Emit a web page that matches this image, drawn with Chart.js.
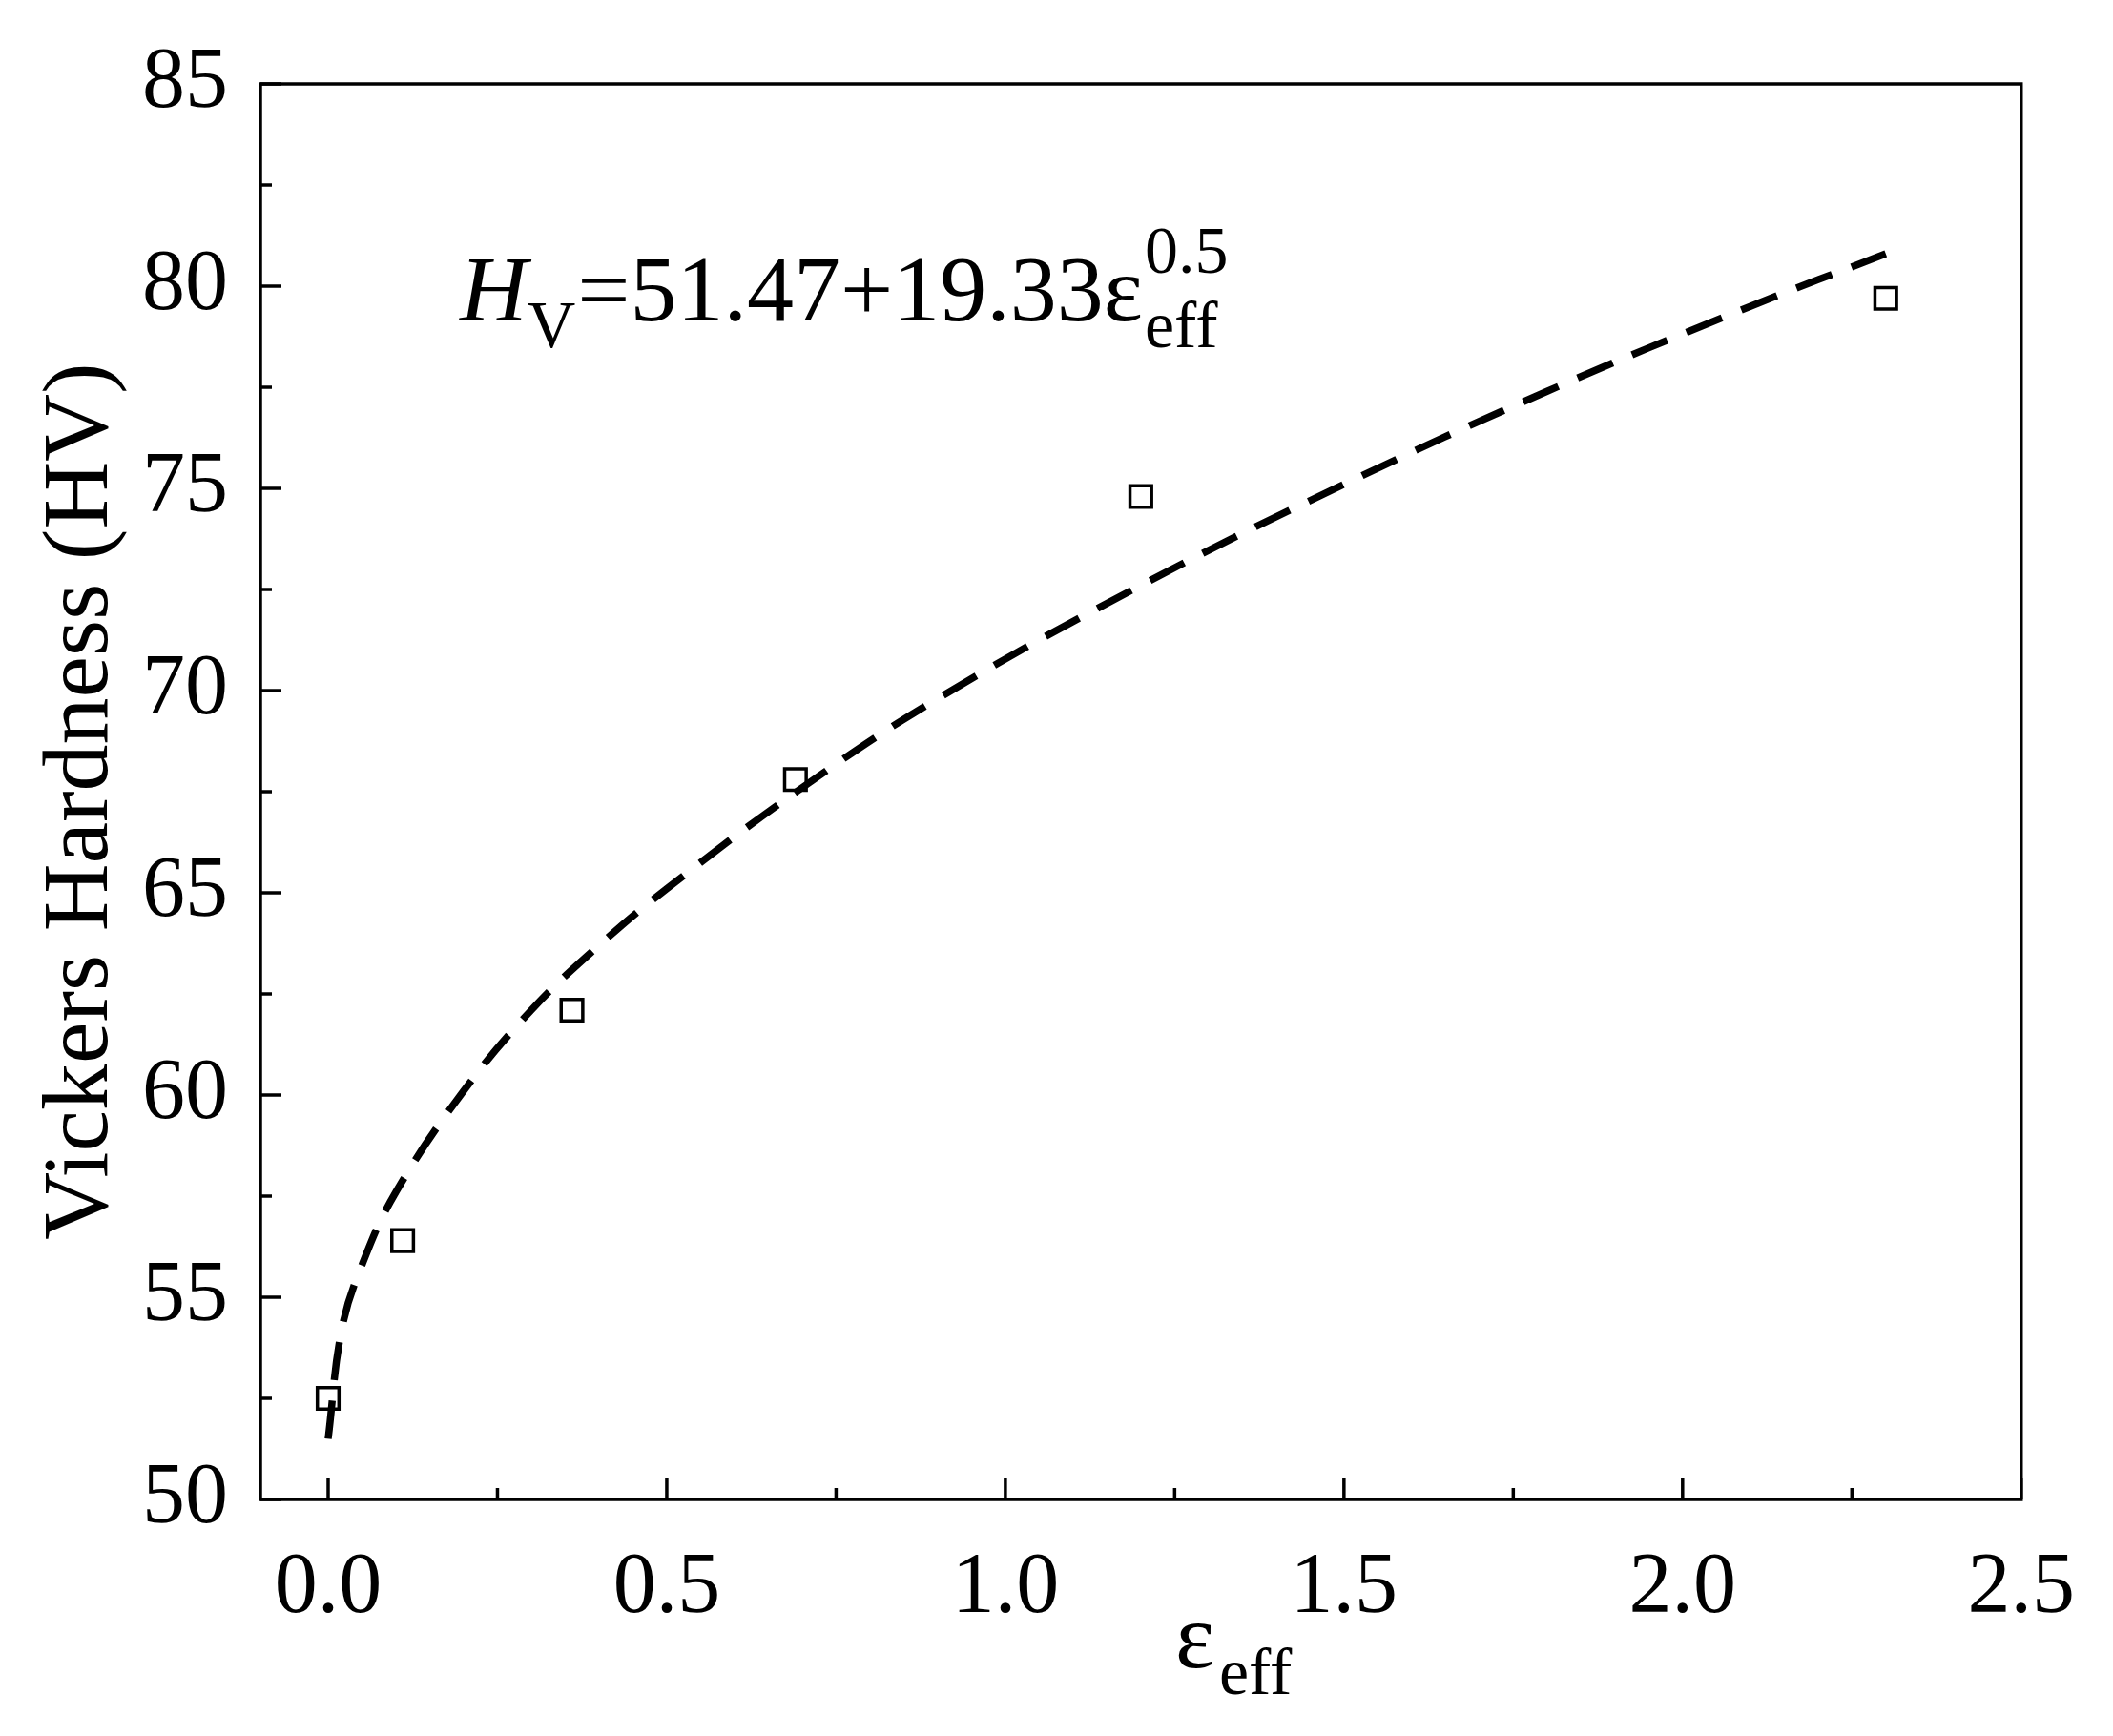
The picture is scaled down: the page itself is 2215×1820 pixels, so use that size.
<!DOCTYPE html>
<html><head><meta charset="utf-8">
<script src="https://cdn.jsdelivr.net/npm/chart.js@4"></script>
<style>body{margin:0;background:#fff}</style></head>
<body><canvas id="c" width="2215" height="1820"></canvas>
<script>
const strainX = [0, 0.11, 0.36, 0.69, 1.2, 2.3];
const hardness = [52.5, 56.4, 62.1, 67.8, 74.8, 79.7];
const fitX = [0, 0.02, 0.05, 0.1, 0.2, 0.3, 0.4, 0.5, 0.7, 0.9, 1.2, 1.5, 1.8, 2.1, 2.3];
const fitY = [51.5, 54.2, 55.8, 57.6, 60.1, 62.1, 63.7, 65.1, 67.6, 69.8, 72.6, 75.1, 77.4, 79.5, 80.8];
const xTicks = [0, 0.5, 1.0, 1.5, 2.0, 2.5];
const yTicks = [50, 55, 60, 65, 70, 75, 80, 85];
const F = '"Liberation Serif", "Times New Roman", serif';

const deco = {
  id: 'deco',
  afterDraw(ch) {
    const c = ch.ctx, a = ch.chartArea, xs = ch.scales.x, ys = ch.scales.y;
    c.save();
    c.strokeStyle = '#000'; c.lineWidth = 3.5;
    c.strokeRect(a.left, a.top, a.right - a.left, a.bottom - a.top);
    for (let v = 0; v <= 2.5001; v += 0.25) {
      const p = xs.getPixelForValue(v), L = (Math.round(v / 0.25) % 2 === 0) ? 22 : 12;
      c.beginPath(); c.moveTo(p, a.bottom); c.lineTo(p, a.bottom - L); c.stroke();
    }
    for (let v = 50; v <= 85.001; v += 2.5) {
      const p = ys.getPixelForValue(v), L = (Math.round(v / 2.5) % 2 === 0) ? 22 : 12;
      c.beginPath(); c.moveTo(a.left, p); c.lineTo(a.left + L, p); c.stroke();
    }
    c.fillStyle = '#000'; c.textBaseline = 'alphabetic';
    // x title
    c.font = '98px ' + F;
    let x0 = 1232, y0 = 1748;
    c.fillText('ε', x0, y0);
    c.font = '70px ' + F;
    c.fillText('eff', x0 + 46, y0 + 28);
    // y title
    c.save(); c.translate(112, (a.top + a.bottom) / 2 + 10); c.rotate(-Math.PI / 2);
    c.font = '98px ' + F; c.textAlign = 'center';
    c.fillText('Vickers Hardness (HV)', 0, 0); c.restore();
    // equation
    let x = 482, y = 336;
    c.font = 'italic 98px ' + F; c.fillText('H', x, y); x += c.measureText('H').width;
    c.font = '70px ' + F; c.fillText('V', x, y + 28); x += c.measureText('V').width + 2;
    c.font = '98px ' + F; const s = '=51.47+19.33ε'; c.fillText(s, x, y); x += c.measureText(s).width + 2;
    c.font = '70px ' + F; c.fillText('0.5', x, y - 50); c.fillText('eff', x, y + 28);
    c.restore();
  }
};

new Chart(document.getElementById('c'), {
  type: 'scatter',
  data: { datasets: [
    { data: fitX.map((v, i) => ({x: v, y: fitY[i]})), showLine: true, borderColor: '#000',
      borderWidth: 7.5, borderDash: [40, 22], pointRadius: 0, tension: 0.4, fill: false },
    { data: strainX.map((v, i) => ({x: v, y: hardness[i]})), pointStyle: 'rect', pointRadius: 16,
      borderColor: '#000', borderWidth: 3.5, backgroundColor: '#fff' }
  ]},
  options: {
    responsive: false, animation: false, devicePixelRatio: 1,
    layout: { padding: { top: 68, right: 75, left: 0, bottom: 0 } },
    plugins: { legend: { display: false }, tooltip: { enabled: false } },
    scales: {
      x: { type: 'linear', min: -0.1, max: 2.5,
        afterBuildTicks: s => { s.ticks = xTicks.map(v => ({value: v})); },
        afterFit: s => { s.height = 248; },
        grid: { display: false, drawTicks: false }, border: { display: false },
        ticks: { padding: 40, color: '#000', font: { family: F, size: 90 }, callback: v => v.toFixed(1) } },
      y: { min: 50, max: 85,
        afterBuildTicks: s => { s.ticks = yTicks.map(v => ({value: v})); },
        afterFit: s => { s.width = 273; },
        grid: { display: false, drawTicks: false }, border: { display: false },
        ticks: { padding: 34, color: '#000', font: { family: F, size: 90 } } }
    }
  },
  plugins: [deco]
});
</script></body></html>
